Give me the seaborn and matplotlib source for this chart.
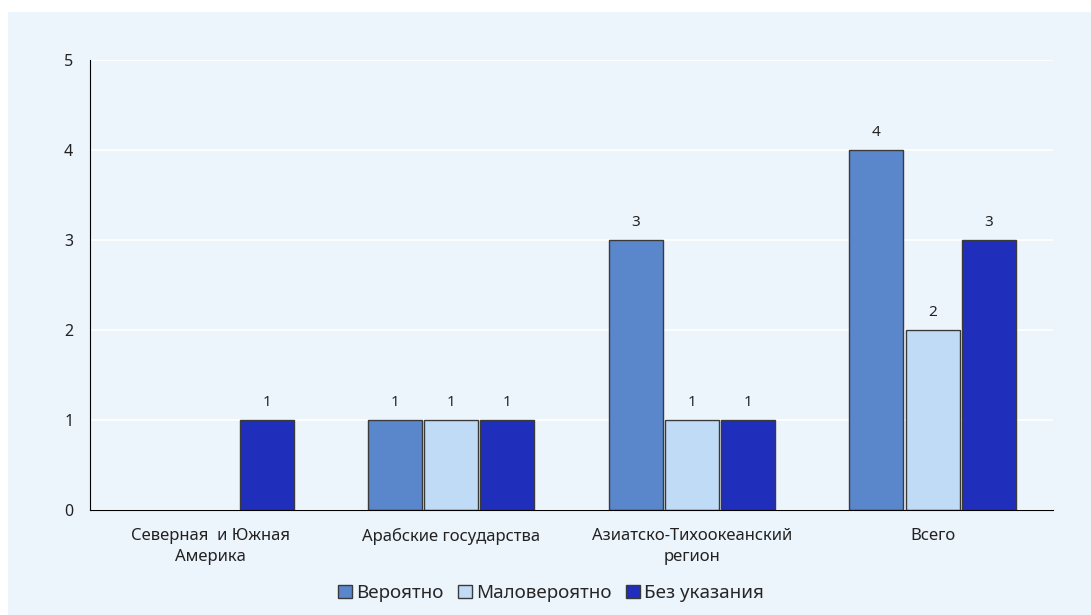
import pandas as pd
import numpy as np
import matplotlib.pyplot as plt
import seaborn as sns
from matplotlib.patches import Rectangle

# --- data ---
regions = ['Северная  и Южная\nАмерика', 'Арабские государства',
           'Азиатско-Тихоокеанский\nрегион', 'Всего']
series = ['Вероятно', 'Маловероятно', 'Без указания']
likely = [np.nan, 1, 3, 4]
unlikely = [np.nan, 1, 1, 2]
unspecified = [1, 1, 1, 3]
colors = ['#5A87CC', '#C0DBF5', '#1F2EBB']

df = pd.DataFrame({'region': regions * 3,
                   'series': np.repeat(series, len(regions)),
                   'value': likely + unlikely + unspecified})

sns.set_style('white')
plt.rcParams['font.family'] = ['Noto Sans', 'DejaVu Sans']

bg = '#ECF4FC'
fig = plt.figure(figsize=(10.91, 6.15), dpi=100, facecolor='white')
fig.patches.append(Rectangle((8 / 1091, 0), 1, 1 - 12 / 615, transform=fig.transFigure,
                             facecolor=bg, edgecolor='none', zorder=-10))
ax = fig.add_axes([90 / 1091, 1 - 510 / 615, (1053 - 90) / 1091, 450 / 615])
ax.set_facecolor(bg)

sns.barplot(data=df, x='region', y='value', hue='series', order=regions,
            hue_order=series, palette=colors, saturation=1, width=0.7, gap=0.04,
            edgecolor='#3a3a3a', linewidth=1, ax=ax, legend=True)

for cont in ax.containers:
    labels = ['' if np.isnan(v) else f'{v:g}' for v in cont.datavalues]
    ax.bar_label(cont, labels=labels, padding=7, fontsize=11, color='#222222')

ax.set_ylim(0, 5)
ax.set_xlim(-0.5, 3.5)
ax.set_yticks(range(6))
ax.grid(axis='y', color='white', linewidth=1.2)
ax.set_axisbelow(True)
ax.tick_params(axis='y', length=4, width=1, labelsize=11.5, colors='#222222', pad=8)
ax.tick_params(axis='x', which='major', length=0, labelsize=12, pad=13, labelcolor='#222222')
for t in ax.get_xticklabels():
    t.set_linespacing(1.45)
ax.set_xticks(np.arange(-0.5, 4, 1), minor=True)
ax.tick_params(axis='x', which='minor', length=5, width=1, direction='out')
ax.set_xlabel('')
ax.set_ylabel('')
for s in ['top', 'right']:
    ax.spines[s].set_visible(False)
ax.spines['left'].set_color('black')
ax.spines['bottom'].set_color('black')

handles, labs = ax.get_legend_handles_labels()
ax.legend(handles, labs, loc='center', bbox_to_anchor=(551 / 1091, 1 - 593 / 615),
          bbox_transform=fig.transFigure, ncol=3,
          frameon=False, fontsize=13.5, handlelength=0.75, handleheight=0.75,
          handletextpad=0.2, columnspacing=0.8, borderaxespad=0)

plt.savefig('out.png', dpi=100, facecolor='white')
